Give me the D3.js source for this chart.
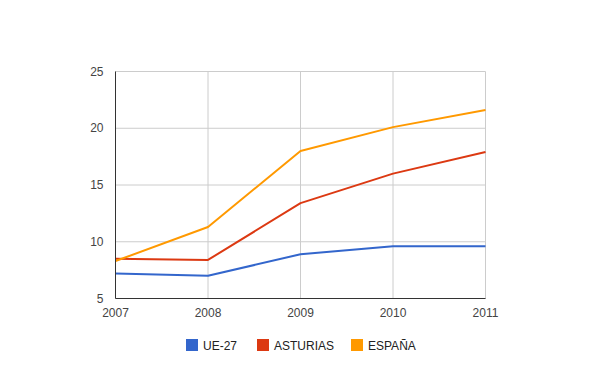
<!DOCTYPE html>
<html>
<head>
<meta charset="utf-8">
<script src="https://cdn.jsdelivr.net/npm/d3@7"></script>
<style>
  body { margin: 0; background: #fff; }
  text { font-family: Arial, "Liberation Sans", sans-serif; font-size: 12px; fill: #444; }
</style>
</head>
<body>
<svg id="chart"></svg>
<script>
// data
const years = [2007, 2008, 2009, 2010, 2011];
const yTicks = [5, 10, 15, 20, 25];
const seriesNames = ["UE-27", "ASTURIAS", "ESPAÑA"];
const ue27 = [7.2, 7.0, 8.9, 9.6, 9.6];
const asturias = [8.5, 8.4, 13.4, 16.0, 17.9];
const espana = [8.3, 11.3, 18.0, 20.1, 21.6];
const colors = ["#3366cc", "#dc3912", "#ff9900"];

const width = 600;
const height = 371;
const margin = { left: 115.5, right: 114.5, top: 71.5, bottom: 72.5 };

const svg = d3.select('svg#chart').attr('width', width).attr('height', height);

const x = d3.scaleLinear().domain([2007, 2011]).range([margin.left, width - margin.right]);
const y = d3.scaleLinear().domain([5, 25]).range([height - margin.bottom, margin.top]);

// gridlines
svg.append("g")
  .selectAll("line")
  .data(years)
  .join("line")
    .attr("x1", d => x(d)).attr("x2", d => x(d))
    .attr("y1", margin.top).attr("y2", height - margin.bottom)
    .attr("stroke", "#ccc").attr("stroke-width", 1);

svg.append("g")
  .selectAll("line")
  .data(yTicks)
  .join("line")
    .attr("x1", margin.left).attr("x2", width - margin.right)
    .attr("y1", d => y(d)).attr("y2", d => y(d))
    .attr("stroke", "#ccc").attr("stroke-width", 1);

// y labels
svg.append("g")
  .selectAll("text")
  .data(yTicks)
  .join("text")
    .attr("x", margin.left - 12)
    .attr("y", d => y(d) + 4)
    .attr("text-anchor", "end")
    .text(d => d);

// x labels
svg.append("g")
  .selectAll("text")
  .data(years)
  .join("text")
    .attr("x", d => x(d))
    .attr("y", height - margin.bottom + 18)
    .attr("text-anchor", "middle")
    .text(d => d);

// lines
const data = [ue27, asturias, espana];
const line = d3.line().x((d, i) => x(years[i])).y(d => y(d));

svg.append("g")
  .selectAll("path")
  .data(data)
  .join("path")
    .attr("d", d => line(d))
    .attr("fill", "none")
    .attr("stroke", (d, i) => colors[i])
    .attr("stroke-width", 2)
    .attr("stroke-linejoin", "round");

// axes lines
svg.append("line")
  .attr("x1", margin.left).attr("x2", margin.left)
  .attr("y1", margin.top).attr("y2", height - margin.bottom)
  .attr("stroke", "#333");
svg.append("line")
  .attr("x1", margin.left).attr("x2", width - margin.right)
  .attr("y1", height - margin.bottom).attr("y2", height - margin.bottom)
  .attr("stroke", "#333");

// legend
const legendX = [186, 257, 351];
const legend = svg.append("g")
  .selectAll("g")
  .data(seriesNames)
  .join("g")
    .attr("transform", (d, i) => "translate(" + legendX[i] + ", 339)");
legend.append("rect")
  .attr("width", 12).attr("height", 12)
  .attr("fill", (d, i) => colors[i]);
legend.append("text")
  .attr("x", 17).attr("y", 10.5)
  .attr("fill", "#222")
  .style("fill", "#222")
  .text(d => d);
</script>
</body>
</html>
